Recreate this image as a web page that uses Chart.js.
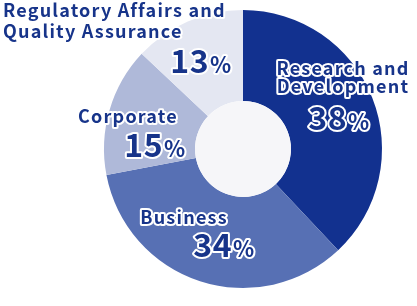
<!DOCTYPE html>
<html>
<head>
<meta charset="utf-8">
<script src="https://cdn.jsdelivr.net/npm/chart.js@4"></script>
<style>
  html, body { margin: 0; padding: 0; background: #ffffff; }
  #wrap { width: 417px; height: 306px; }
</style>
</head>
<body>
<div id="wrap"><canvas id="myChart"></canvas></div>
<script>
// data
var categories = ["Research and Development", "Business", "Corporate", "Regulatory Affairs and Quality Assurance"];
var labelLines = [["Research and", "Development"], ["Business"], ["Corporate"], ["Regulatory Affairs and", "Quality Assurance"]];
var shares = [38, 34, 15, 13];

var sliceColors = ['#12318f', '#5770b4', '#afb9d9', '#e4e7f2'];
var textColor = '#17348a';
var fontFamily = '"Noto Sans CJK JP", "Noto Sans", sans-serif';

// where each label block goes: name lines + percent (center x, baseline y)
var labelPlaces = [
    { align: 'center', x: 343, y: [75, 93], px: 339, py: 130 },
    { align: 'center', x: 184, y: [224], px: 224, py: 257 },
    { align: 'center', x: 128, y: [123], px: 155, py: 157 },
    { align: 'left', x: 3, y: [17, 38], px: 201, py: 73 }
];

function outlinedText(ctx, str, x, y) {
    ctx.lineJoin = 'round';
    ctx.lineWidth = 4;
    ctx.strokeStyle = '#ffffff';
    ctx.strokeText(str, x, y);
    ctx.fillStyle = textColor;
    ctx.fillText(str, x, y);
}

var holeAndLabels = {
    id: 'holeAndLabels',
    afterDatasetsDraw: function (chart) {
        var ctx = chart.ctx;
        var arc = chart.getDatasetMeta(0).data[0];
        ctx.save();
        ctx.beginPath();
        ctx.arc(arc.x, arc.y, arc.innerRadius, 0, Math.PI * 2);
        ctx.fillStyle = '#f6f6f9';
        ctx.fill();
        ctx.restore();
    },
    afterDraw: function (chart) {
        var ctx = chart.ctx;
        ctx.save();
        ctx.textBaseline = 'alphabetic';
        labelLines.forEach(function (lines, i) {
            var p = labelPlaces[i];
            ctx.font = '700 18px ' + fontFamily;
            ctx.letterSpacing = '1.2px';
            ctx.textAlign = p.align;
            lines.forEach(function (line, j) {
                outlinedText(ctx, line, p.x, p.y[j]);
            });
            // percent: big digits + small %
            var num = String(shares[i]);
            ctx.letterSpacing = '0.5px';
            ctx.textAlign = 'left';
            ctx.font = '700 32px ' + fontFamily;
            var wNum = ctx.measureText(num).width;
            ctx.font = '700 22px ' + fontFamily;
            var wPct = ctx.measureText('%').width;
            var left = p.px - (wNum + wPct + 1) / 2;
            ctx.font = '700 32px ' + fontFamily;
            outlinedText(ctx, num, left, p.py);
            ctx.font = '700 22px ' + fontFamily;
            outlinedText(ctx, '%', left + wNum + 1, p.py);
        });
        ctx.restore();
    }
};

var ctxt = document.getElementById('myChart');
var myChart = new Chart(ctxt, {
    type: 'doughnut',
    data: {
        labels: categories,
        datasets: [{
            data: shares,
            backgroundColor: sliceColors,
            borderWidth: 0
        }]
    },
    options: {
        responsive: true,
        maintainAspectRatio: false,
        animation: false,
        cutout: '34.5%',
        layout: { padding: { left: 104, right: 35, top: 10, bottom: 18 } },
        plugins: {
            legend: { display: false },
            tooltip: { enabled: false }
        }
    },
    plugins: [holeAndLabels]
});
</script>
</body>
</html>
